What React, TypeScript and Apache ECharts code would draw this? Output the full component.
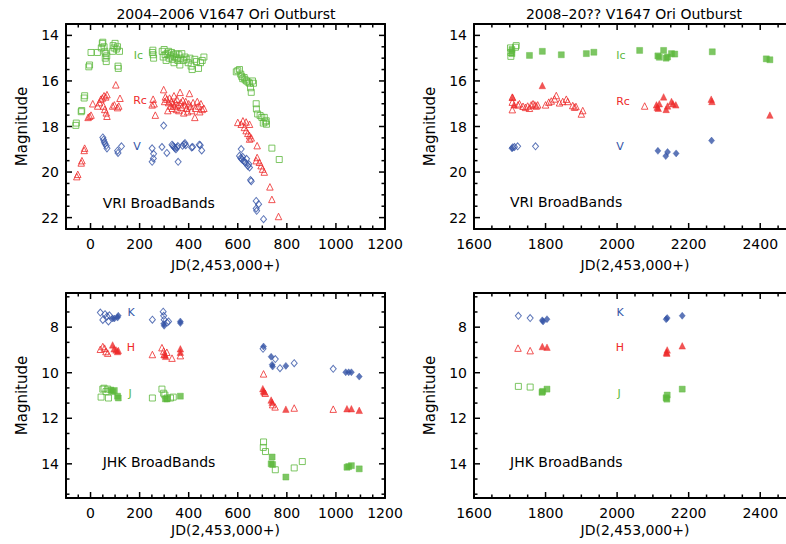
import React, { useEffect, useRef } from "react";
import * as echarts from "echarts";

// ---------- tick values ----------
const leftXLabels = [0, 200, 400, 600, 800, 1000, 1200];
const rightXLabels = [1600, 1800, 2000, 2200, 2400];
const topYLabels = [14, 16, 18, 20, 22];
const bottomYLabels = [8, 10, 12, 14];

// ---------- 2004-2006 VRI (open symbols) ----------
const tlIc: number[][] = [
  [-60, 17.95], [-58, 17.85], [-38, 17.35], [-36, 17.3], [-26, 16.75], [-24, 16.65], [-7, 15.38], [-4, 15.3],
  [2, 14.75], [28, 14.75], [44, 14.55], [48, 14.35], [50, 14.3], [55, 14.5], [58, 14.7], [62, 14.8], [60, 15.0],
  [64, 15.15], [66, 14.9], [90, 14.7], [92, 14.45], [96, 14.55], [100, 14.35], [105, 14.6], [110, 14.5],
  [118, 14.7], [112, 15.35], [113, 15.45],
  [252, 14.75], [255, 14.85], [257, 15.0], [254, 14.65],
  [292, 14.7], [296, 14.95], [300, 14.62], [304, 14.85], [308, 15.1], [312, 14.8], [318, 14.7], [320, 15.0],
  [326, 14.9], [330, 14.75], [334, 15.05], [338, 14.85], [340, 15.2], [344, 14.95], [348, 14.8], [352, 15.0],
  [356, 15.1], [360, 14.85], [364, 15.3], [368, 15.0], [372, 14.8], [378, 15.1], [385, 14.95], [392, 15.05],
  [398, 15.2], [405, 15.0], [410, 15.35], [414, 15.5], [425, 15.05], [432, 15.15], [440, 15.45], [448, 15.2],
  [455, 15.1], [462, 14.95],
  [594, 15.6], [600, 15.55], [607, 15.5], [612, 15.7], [616, 15.8], [620, 15.9], [626, 15.85], [630, 15.95],
  [636, 16.0], [642, 16.05], [648, 16.1], [652, 16.3], [655, 16.5], [660, 16.0], [664, 16.1],
  [675, 17.0], [676, 17.23], [681, 17.45], [691, 17.52], [698, 17.6], [708, 17.6], [712, 17.8], [716, 17.75],
  [717, 17.9], [704, 17.85], [739, 18.95], [769, 19.45],
];
const tlRc: number[][] = [
  [-56, 20.2], [-52, 20.1], [-38, 19.6], [-35, 19.5], [-26, 19.05], [-24, 18.95], [-10, 17.6], [-4, 17.55],
  [2, 17.5], [9, 17.0], [29, 17.1], [36, 16.95], [42, 16.8], [48, 16.75], [55, 16.65], [62, 16.7], [67, 16.6],
  [53, 17.1], [58, 17.25], [64, 17.4], [67, 17.55], [90, 17.1], [97, 17.05], [103, 16.17], [110, 17.17],
  [115, 17.1], [120, 16.76],
  [251, 17.05], [255, 16.8], [259, 17.0], [264, 17.5], [298, 16.38], [302, 16.9], [305, 16.7], [311, 16.8],
  [315, 17.3], [318, 16.95], [322, 16.75], [326, 17.1], [330, 16.9], [333, 17.2], [336, 17.0], [340, 16.65],
  [343, 17.1], [346, 16.95], [350, 17.25], [352, 16.8], [356, 17.05], [360, 17.3], [365, 16.5], [368, 16.95],
  [372, 17.15], [376, 16.85], [380, 17.4], [384, 17.05], [388, 16.9], [392, 17.2], [396, 17.35], [400, 17.0],
  [403, 16.55], [408, 17.1], [412, 17.3], [418, 16.95], [425, 17.6], [428, 17.2], [435, 16.9], [440, 17.1],
  [445, 17.35], [450, 17.0], [455, 17.25], [462, 17.2],
  [600, 17.82], [614, 17.9], [621, 17.75], [634, 17.8], [648, 17.9], [627, 18.04], [634, 18.18], [641, 18.3],
  [648, 18.4], [655, 18.5], [648, 18.55], [679, 18.84], [679, 19.36], [675, 19.5], [688, 19.57], [695, 19.72],
  [701, 19.87], [708, 20.0], [731, 20.65], [739, 21.2], [766, 21.95],
];
const tlV: number[][] = [
  [50, 18.48], [53, 18.58], [56, 18.68], [59, 18.76], [64, 18.85], [67, 18.96], [110, 19.06], [112, 19.16],
  [126, 18.87], [251, 18.96], [257, 19.2], [256, 19.4], [251, 19.55], [291, 18.9], [298, 17.96], [311, 19.16],
  [332, 18.8], [336, 18.85], [340, 18.9], [344, 18.95], [348, 19.0], [352, 18.92], [356, 18.86], [357, 19.55],
  [375, 18.85], [381, 18.78], [388, 18.82], [385, 18.73], [412, 18.92], [416, 18.9], [443, 18.8], [447, 18.82],
  [453, 19.05],
  [614, 18.99], [607, 19.29], [612, 19.38], [616, 19.44], [620, 19.33], [624, 19.5], [628, 19.56], [632, 19.6],
  [636, 19.42], [641, 19.73], [645, 19.65], [648, 19.8], [652, 20.35], [655, 20.4], [675, 21.27], [685, 21.41],
  [675, 21.6], [677, 21.7], [705, 22.07],
];

// ---------- 2008-20?? VRI ----------
const trIcOpen: number[][] = [[1702, 14.55], [1703, 14.75], [1703, 14.92], [1718, 14.45], [1716, 14.52]];
const trIcFilled: number[][] = [
  [1706, 14.62], [1706, 14.8], [1755, 14.88], [1791, 14.7], [1844, 14.85], [1914, 14.8], [1935, 14.74],
  [2063, 14.66], [2114, 14.9], [2118, 14.96], [2130, 14.66], [2137, 15.0], [2141, 14.95], [2152, 14.8],
  [2161, 14.82], [2266, 14.72], [2417, 15.03], [2427, 15.07],
];
const trRcOpen: number[][] = [
  [1707, 16.71], [1707, 16.93], [1707, 17.26], [1723, 17.05], [1727, 17.0], [1737, 17.11], [1744, 17.16],
  [1750, 17.1], [1755, 17.2], [1760, 17.05], [1765, 17.0], [1770, 17.05], [1774, 17.1], [1778, 17.05],
  [1800, 17.05], [1809, 16.93], [1816, 16.88], [1825, 16.79], [1830, 16.64], [1839, 16.96], [1848, 16.9],
  [1858, 16.8], [1862, 16.9], [1876, 17.08], [1881, 17.15], [1885, 17.12], [1900, 17.45], [1904, 17.3],
  [2077, 17.1],
];
const trRcFilled: number[][] = [
  [1708, 16.72], [1712, 17.05], [1791, 16.2], [2110, 17.05], [2112, 17.15], [2115, 17.2], [2118, 17.0],
  [2130, 16.7], [2137, 17.25], [2141, 17.1], [2152, 16.9], [2156, 17.0], [2164, 17.05], [2263, 16.8],
  [2265, 16.9], [2427, 17.5],
];
const trVOpen: number[][] = [[1708, 18.92], [1713, 18.9], [1722, 18.87], [1772, 18.87]];
const trVFilled: number[][] = [[1706, 18.96], [2114, 19.07], [2136, 19.3], [2141, 19.12], [2165, 19.18], [2264, 18.62]];

// ---------- 2004-2006 JHK ----------
const blKOpen: number[][] = [
  [40, 7.36], [50, 7.68], [59, 7.43], [67, 7.53], [73, 7.75], [77, 7.48], [252, 7.67], [296, 7.32],
  [298, 7.5], [300, 7.67], [312, 7.8], [318, 7.75],
  [703, 8.95], [753, 9.4], [772, 9.8], [830, 9.58], [989, 9.83],
];
const blKFilled: number[][] = [
  [90, 7.62], [97, 7.62], [113, 7.5], [110, 7.58], [298, 7.85], [300, 7.94], [366, 7.75], [366, 7.82],
  [705, 8.85], [736, 9.3], [740, 9.65], [742, 9.73], [796, 9.7], [1040, 9.98], [1052, 9.98], [1063, 9.98],
  [1095, 10.17],
];
const blHOpen: number[][] = [
  [40, 8.97], [50, 8.85], [57, 8.92], [63, 9.07], [70, 9.14], [252, 9.2], [291, 8.9], [298, 9.05],
  [300, 9.2], [311, 9.1], [332, 9.36], [366, 9.25], [705, 10.05], [712, 10.9], [752, 11.5], [742, 11.4],
  [830, 11.55], [989, 11.6],
];
const blHFilled: number[][] = [
  [90, 8.78], [96, 8.95], [104, 9.0], [110, 9.07], [113, 9.02], [303, 9.2], [306, 9.28], [366, 8.95],
  [366, 9.1], [702, 10.7], [705, 10.8], [708, 10.85], [736, 11.2], [740, 11.3], [796, 11.6], [1045, 11.58],
  [1063, 11.58], [1095, 11.65],
];
const blJOpen: number[][] = [
  [50, 10.72], [55, 10.68], [63, 10.83], [70, 10.72], [43, 11.07], [73, 11.11], [252, 11.11], [291, 10.72],
  [298, 10.9], [303, 10.98], [312, 11.11], [326, 11.11], [337, 11.07], [705, 13.04], [704, 13.28],
  [713, 13.46], [753, 14.26], [830, 14.18], [863, 13.9],
];
const blJFilled: number[][] = [
  [83, 10.76], [90, 10.83], [97, 10.78], [110, 11.03], [113, 11.11], [305, 11.15], [312, 11.15],
  [366, 11.03], [740, 13.7], [736, 14.0], [742, 14.03], [796, 14.58], [1045, 14.15], [1052, 14.12],
  [1063, 14.08], [1095, 14.22],
];

// ---------- 2008-20?? JHK ----------
const brKOpen: number[][] = [[1724, 7.5], [1757, 7.6]];
const brKFilled: number[][] = [[1791, 7.7], [1793, 7.75], [1804, 7.65], [2137, 7.65], [2140, 7.6], [2182, 7.5]];
const brHOpen: number[][] = [[1723, 8.92], [1757, 9.03]];
const brHFilled: number[][] = [[1791, 8.85], [1804, 8.88], [2138, 9.1], [2140, 9.0], [2139, 9.14], [2182, 8.82]];
const brJOpen: number[][] = [[1724, 10.6], [1757, 10.63]];
const brJFilled: number[][] = [[1792, 10.82], [1790, 10.86], [1804, 10.72], [2137, 11.1], [2140, 10.98], [2139, 11.16], [2182, 10.72]];

const GREEN = "#5cb83c";
const RED = "#ee2a2a";
const BLUE = "#3454a6";
const FONT = "DejaVu Sans";

function range(a: number, b: number, step: number): number[] {
  const out: number[] = [];
  for (let v = a; v <= b + 1e-9; v += step) out.push(Math.round(v * 1000) / 1000);
  return out;
}

const GRIDS = [
  { left: 66, top: 24, width: 319, height: 205 },
  { left: 474, top: 24, width: 322, height: 205 },
  { left: 66, top: 293, width: 319, height: 205 },
  { left: 474, top: 293, width: 322, height: 205 },
];

function xAxes(g: number, min: number, max: number, majors: number[], nameGap: number) {
  const base = { type: "value", gridIndex: g, min, max, splitLine: { show: false }, axisTick: { show: false } };
  const line = { show: true, onZero: false, lineStyle: { color: "#000", width: 2 } };
  return [
    {
      ...base, position: "bottom", axisLine: line,
      axisLabel: {
        show: true, customValues: majors, color: "#000", fontSize: 14, fontFamily: FONT, margin: 8,
        formatter: (v: number) => String(v),
      },
      name: "JD(2,453,000+)", nameLocation: "middle", nameGap,
      nameTextStyle: { color: "#000", fontSize: 14, fontFamily: FONT },
    },
    { ...base, position: "top", axisLine: line, axisLabel: { show: false } },
  ];
}

function yAxes(g: number, min: number, max: number, majors: number[]) {
  const base = { type: "value", gridIndex: g, min, max, inverse: true, splitLine: { show: false }, axisTick: { show: false } };
  const line = { show: true, onZero: false, lineStyle: { color: "#000", width: 2 } };
  return [
    {
      ...base, position: "left", axisLine: line,
      axisLabel: {
        show: true, customValues: majors, color: "#000", fontSize: 14, fontFamily: FONT, margin: 7,
        formatter: (v: number) => String(v),
      },
      name: "Magnitude", nameLocation: "middle", nameGap: 37,
      nameTextStyle: { color: "#000", fontSize: 15, fontFamily: FONT },
    },
    { ...base, position: "right", axisLine: line, axisLabel: { show: false } },
  ];
}

type Shape = "rect" | "triangle" | "diamond";
function sc(g: number, data: number[][], shape: Shape, color: string, filled: boolean) {
  const size = shape === "rect" ? 6 : shape === "triangle" ? 6.5 : [6, 7];
  return {
    type: "scatter", xAxisIndex: g * 2, yAxisIndex: g * 2, data, symbol: shape, symbolSize: size,
    silent: true,
    itemStyle: filled
      ? { color, borderColor: color, borderWidth: 0.5 }
      : { color: "rgba(255,255,255,0)", borderColor: color, borderWidth: 1 },
  };
}

function txt(x: number, y: number, text: string, fill: string, size: number, align = "center") {
  return {
    type: "text", x, y, silent: true,
    style: { text, fill, fontSize: size, fontFamily: FONT, align, verticalAlign: "middle" },
  };
}

export default function App() {
  const ref = useRef<HTMLDivElement>(null);
  useEffect(() => {
    document.body.style.margin = "0";
    if (!ref.current) return;
    const chart = echarts.init(ref.current, undefined, { renderer: "svg" });
    const leftMinor = range(-50, 1150, 50);
    const rightMinor = range(1650, 2450, 50);
    const topMinor = range(14, 22, 0.5);
    const botMinor = range(6 + 2 / 3, 15.4, 2 / 3);
    const option: any = {
      animation: false,
      backgroundColor: "#fff",
      grid: GRIDS.map((g) => ({ ...g, outerBoundsMode: "none" })),
      xAxis: [
        ...xAxes(0, -100, 1200, leftXLabels, 29),
        ...xAxes(1, 1600, 2500, rightXLabels, 29),
        ...xAxes(2, -100, 1200, leftXLabels, 25),
        ...xAxes(3, 1600, 2500, rightXLabels, 25),
      ],
      yAxis: [
        ...yAxes(0, 13.5, 22.5, topYLabels),
        ...yAxes(1, 13.5, 22.5, topYLabels),
        ...yAxes(2, 6.5, 15.5, bottomYLabels),
        ...yAxes(3, 6.5, 15.5, bottomYLabels),
      ],
      series: [
        sc(0, tlIc, "rect", GREEN, false),
        sc(0, tlRc, "triangle", RED, false),
        sc(0, tlV, "diamond", BLUE, false),
        sc(1, trIcOpen, "rect", GREEN, false),
        sc(1, trIcFilled, "rect", GREEN, true),
        sc(1, trRcOpen, "triangle", RED, false),
        sc(1, trRcFilled, "triangle", RED, true),
        sc(1, trVOpen, "diamond", BLUE, false),
        sc(1, trVFilled, "diamond", BLUE, true),
        sc(2, blKOpen, "diamond", BLUE, false),
        sc(2, blKFilled, "diamond", BLUE, true),
        sc(2, blHOpen, "triangle", RED, false),
        sc(2, blHFilled, "triangle", RED, true),
        sc(2, blJOpen, "rect", GREEN, false),
        sc(2, blJFilled, "rect", GREEN, true),
        sc(3, brKOpen, "diamond", BLUE, false),
        sc(3, brKFilled, "diamond", BLUE, true),
        sc(3, brHOpen, "triangle", RED, false),
        sc(3, brHFilled, "triangle", RED, true),
        sc(3, brJOpen, "rect", GREEN, false),
        sc(3, brJFilled, "rect", GREEN, true),
      ],
    };
    chart.setOption(option);

    const texts = [
      txt(226, 14, "2004–2006 V1647 Ori Outburst", "#000", 14),
      txt(634, 14, "2008–20?? V1647 Ori Outburst", "#000", 14),
      txt(138.5, 55, "Ic", GREEN, 11),
      txt(140, 100.5, "Rc", RED, 11),
      txt(137, 146, "V", BLUE, 11),
      txt(621, 55, "Ic", GREEN, 11),
      txt(623, 101, "Rc", RED, 11),
      txt(620, 146, "V", BLUE, 11),
      txt(131, 312.7, "K", BLUE, 11),
      txt(131, 347, "H", RED, 11),
      txt(130, 393.5, "J", GREEN, 11),
      txt(620, 312.7, "K", BLUE, 11),
      txt(620, 347, "H", RED, 11),
      txt(619, 393, "J", GREEN, 11),
      txt(102.7, 202.5, "VRI BroadBands", "#000", 14, "left"),
      txt(510, 202, "VRI BroadBands", "#000", 14, "left"),
      txt(102.7, 461.7, "JHK BroadBands", "#000", 14, "left"),
      txt(510, 461.7, "JHK BroadBands", "#000", 14, "left"),
    ];

    // axis ticks (inside, on all four sides), positioned through the axes' own scales
    const tickSpec = [
      { xMaj: leftXLabels, xMin: leftMinor, yMaj: topYLabels, yMin: topMinor },
      { xMaj: rightXLabels, xMin: rightMinor, yMaj: topYLabels, yMin: topMinor },
      { xMaj: leftXLabels, xMin: leftMinor, yMaj: bottomYLabels, yMin: botMinor },
      { xMaj: rightXLabels, xMin: rightMinor, yMaj: bottomYLabels, yMin: botMinor },
    ];
    const ticks: any[] = [];
    const tl = (x1: number, y1: number, x2: number, y2: number) => ({
      type: "line", silent: true, shape: { x1, y1, x2, y2 }, style: { stroke: "#000", lineWidth: 1.5 },
    });
    tickSpec.forEach((s, g) => {
      const G = GRIDS[g];
      const yT = G.top, yB = G.top + G.height, xL = G.left, xR = G.left + G.width;
      const xs = (vals: number[], len: number) => vals.forEach((v) => {
        const px = chart.convertToPixel({ xAxisIndex: g * 2 } as any, v) as unknown as number;
        if (typeof px !== "number" || isNaN(px)) return;
        ticks.push(tl(px, yB, px, yB - len));
        ticks.push(tl(px, yT, px, yT + len));
      });
      const ys = (vals: number[], len: number) => vals.forEach((v) => {
        const py = chart.convertToPixel({ yAxisIndex: g * 2 } as any, v) as unknown as number;
        if (typeof py !== "number" || isNaN(py)) return;
        ticks.push(tl(xL, py, xL + len, py));
        ticks.push(tl(xR, py, xR - len, py));
      });
      xs(s.xMaj, 6);
      xs(s.xMin.filter((v) => !s.xMaj.includes(v)), 3.5);
      ys(s.yMaj, 6);
      ys(s.yMin.filter((v) => !s.yMaj.some((m) => Math.abs(m - v) < 1e-6)), 3.5);
    });
    chart.setOption({ graphic: [...texts, ...ticks] });
    return () => chart.dispose();
  }, []);
  return <div ref={ref} style={{ width: 786, height: 544 }} />;
}
